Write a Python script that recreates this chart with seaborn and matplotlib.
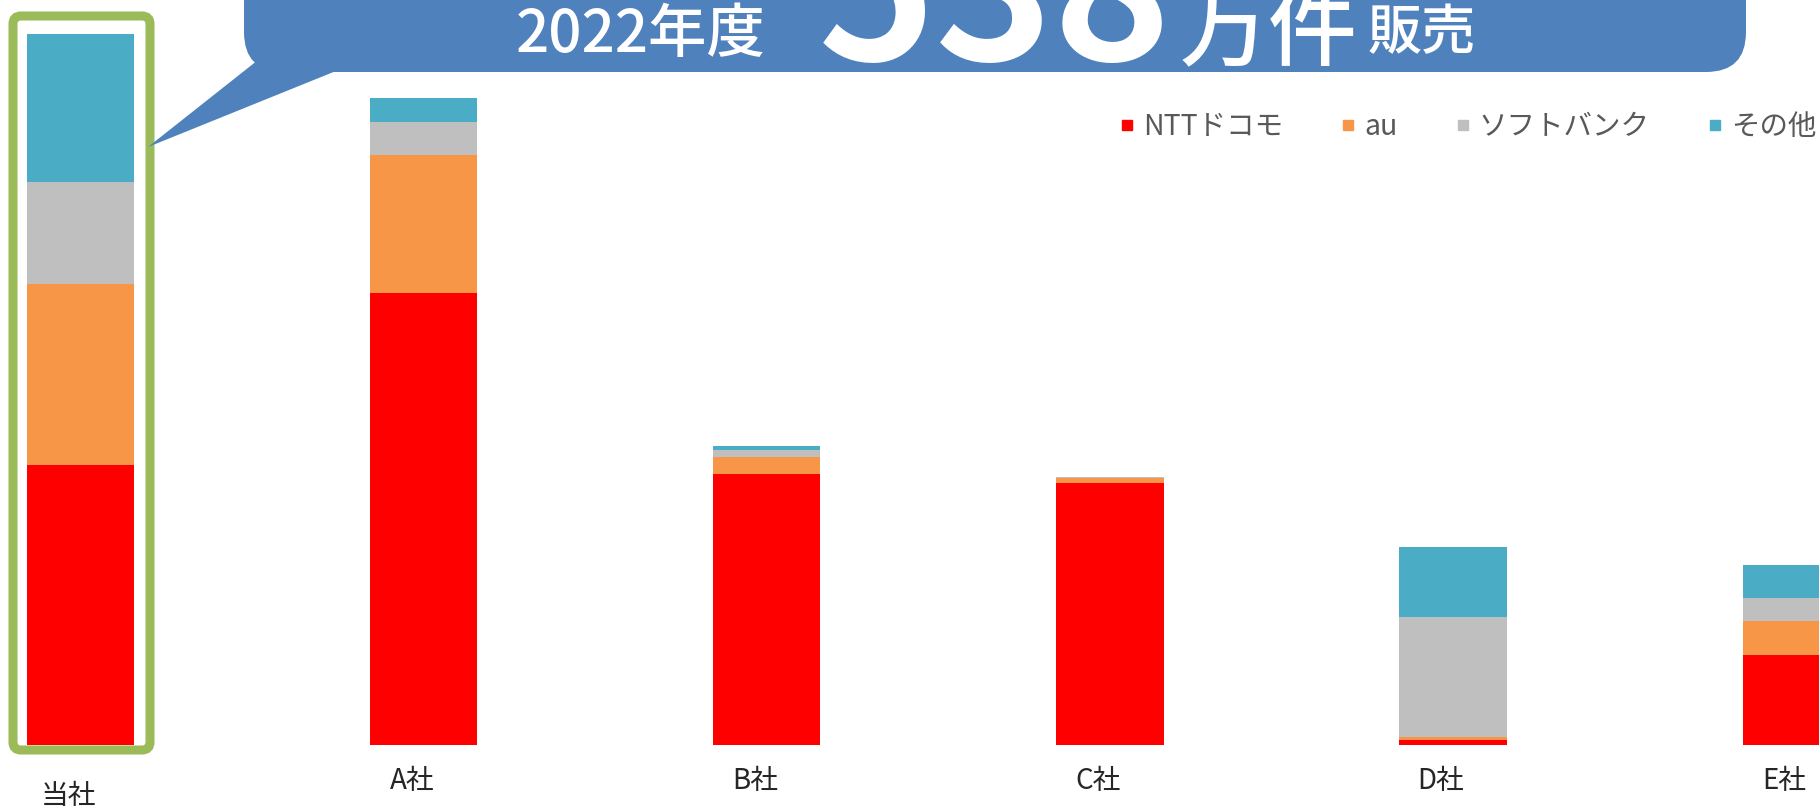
import matplotlib
matplotlib.use("Agg")
import matplotlib.pyplot as plt
import seaborn as sns
import pandas as pd
from matplotlib.patches import FancyBboxPatch, Polygon
from matplotlib.lines import Line2D

# data (万件)
companies = ["当社", "A社", "B社", "C社", "D社", "E社"]
docomo = [212, 342, 205, 198, 4, 68]
au = [137, 105, 13, 4, 2, 26]
softbank = [77, 25, 5, 1, 91, 17]
others = [112, 18, 3, 0, 53, 25]
series_names = ["NTTドコモ", "au", "ソフトバンク", "その他"]
series_colors = ["#FF0000", "#F79646", "#BFBFBF", "#4BACC6"]
headline_year = "2022年度"
headline_total = "538"

sns.set_theme(style="white")
plt.rcParams["font.family"] = ["Noto Sans CJK JP", "DejaVu Sans"]

df = pd.DataFrame({"company": companies, "docomo": docomo, "au": au,
                   "softbank": softbank, "others": others})
layers = ["docomo", "au", "softbank", "others"]

fig = plt.figure(figsize=(18.19, 8.11), dpi=100)
ax = fig.add_axes([0, 0, 1, 1])

# stacked bars: draw cumulative totals from the top layer down
for i in range(len(layers) - 1, -1, -1):
    df["cum"] = df[layers[:i + 1]].sum(axis=1)
    sns.barplot(data=df, x="company", y="cum", order=companies,
                color=series_colors[i], width=0.312, saturation=1,
                linewidth=0, ax=ax)

ax.set_xlim(-0.236, 5.067)
ax.set_ylim(-50, 564)
ax.axis("off")

# category labels (当社 sits a bit lower)
for i, name in enumerate(companies):
    y = -38.5 if i == 0 else -27
    ax.text(i - 0.035, y, name, ha="center", va="center", fontsize=20, color="#262626")

# legend
handles = [Line2D([], [], marker="s", linestyle="none", markersize=7.5,
                  markerfacecolor=c, markeredgecolor=c) for c in series_colors]
ax.legend(handles, series_names, ncol=4, frameon=False, loc="center left",
          bbox_to_anchor=(1120 / 1819, 1 - 127 / 811), bbox_transform=fig.transFigure,
          fontsize=20.5, labelcolor="#595959", handlelength=0.5, handletextpad=0.3,
          columnspacing=2.05, borderpad=0, borderaxespad=0)

# overlay in pixel coordinates for the callout and the highlight box
deco = fig.add_axes([0, 0, 1, 1], zorder=3)
deco.set_xlim(0, 1819)
deco.set_ylim(811, 0)
deco.axis("off")
deco.patch.set_alpha(0)

deco.add_patch(FancyBboxPatch((13, 16), 137, 734, boxstyle="round,pad=0,rounding_size=8",
                              fill=False, edgecolor="#9BBB59", linewidth=6.5))

blue = "#4F81BD"
deco.add_patch(FancyBboxPatch((244, -80), 1502, 152, boxstyle="round,pad=0,rounding_size=40",
                              facecolor=blue, edgecolor="none"))
deco.add_patch(Polygon([(258, 60), (148, 147), (336, 71)], closed=True,
                       facecolor=blue, edgecolor="none"))

deco.text(516, 52, headline_year, color="white", fontsize=42, weight="medium",
          ha="left", va="baseline")
deco.text(818, 60, headline_total, color="white", fontsize=144, weight="bold",
          ha="left", va="baseline")
deco.text(1180, 58, "万件", color="white", fontsize=64, weight="medium",
          ha="left", va="baseline")
deco.text(1368, 49, "販売", color="white", fontsize=39, weight="medium",
          ha="left", va="baseline")

fig.savefig("out.png", dpi=100)
